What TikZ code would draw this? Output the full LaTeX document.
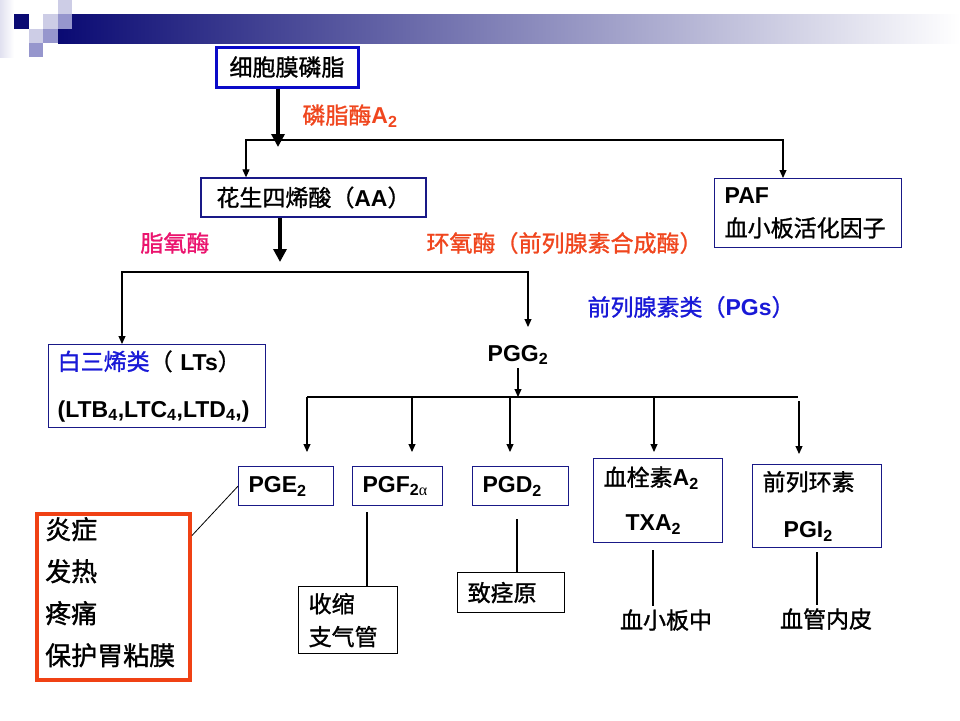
\documentclass[tikz,border=0pt]{standalone}
\usepackage{fontspec}
\setmainfont{Liberation Sans}
\newfontfamily\cjk{Noto Sans CJK SC}[BoldFont={Noto Sans CJK SC},BoldFeatures={FakeBold=1.2}]
\newfontfamily\grk{Liberation Serif}
\usetikzlibrary{arrows.meta}

\definecolor{boxblue}{RGB}{25,25,135}
\definecolor{topblue}{RGB}{10,10,200}
\definecolor{enzred}{RGB}{240,70,30}
\definecolor{lipink}{RGB}{235,20,110}
\definecolor{pgblue}{RGB}{25,25,215}
\definecolor{effred}{RGB}{240,65,20}
\definecolor{decodark}{RGB}{10,10,115}
\definecolor{decomid}{RGB}{150,150,205}
\definecolor{decolight}{RGB}{205,205,230}

\newcommand{\zh}[1]{{\cjk #1}}

\begin{document}
\begin{tikzpicture}[
  x=1pt, y=-1pt,
  font=\fontsize{23}{28}\selectfont\bfseries,
  >={Triangle[length=8pt,width=7pt]},
  link/.style={line width=1.1pt},
  fat/.style={line width=3.5pt, -{Triangle[length=13pt,width=13pt]}},
  pbox/.style={draw=boxblue, line width=1.3pt, anchor=north west,
    inner xsep=10pt, inner ysep=0pt, align=left},
  kbox/.style={pbox, draw=black},
  lines/.style={font=\fontsize{23}{#1}\selectfont\bfseries},
]

\useasboundingbox [fill=white] (0,0) rectangle (960,720);

% slide decoration
\shade [left color=decodark, right color=white] (58,14) rectangle (960,43);
\shade [left color=decolight!60, right color=white] (0,0) rectangle (14,57);
\fill [decodark] (14,14) rectangle (29,29);
\fill [decolight] (43,14) rectangle (58,29);
\fill [decolight] (58,0) rectangle (72,14);
\fill [decomid] (58,14) rectangle (72,29);
\fill [decolight] (29,29) rectangle (43,43);
\fill [decomid] (43,29) rectangle (58,43);
\fill [decomid] (29,43) rectangle (43,57);

% upper part
\node [draw=topblue, line width=3pt, minimum width=142, minimum height=40] (mem) at (287,67) {\zh{细胞膜磷脂}};
\node [text=enzred] (pla) at (350,116) {\zh{磷脂酶}A\textsubscript{2}};
\node [draw=boxblue, line width=1.3pt, minimum width=225, minimum height=39] (aa) at (313.5,197.5) {\zh{花生四烯酸（}AA\zh{）}};
\node [pbox, lines=33, text width=167pt, minimum height=69] (paf) at (714,178) {PAF\\\zh{血小板活化因子}};

\node [text=lipink] (lox) at (175,243) {\zh{脂氧酶}};
\node [text=enzred, anchor=west] (cox) at (423,243) {\zh{环氧酶（前列腺素合成酶）}};
\node [text=pgblue, anchor=west] (pgs) at (584,307) {\zh{前列腺素类（}PGs\zh{）}};

\node [pbox, lines=47, inner xsep=9pt, text width=199pt, minimum height=83] (lt) at (48,344)
  {\textcolor{pgblue}{\zh{白三烯类}}\zh{（} LTs\zh{）}\\(LTB\textsubscript{4},LTC\textsubscript{4},LTD\textsubscript{4},)};
\node (pgg) at (518,355) {PGG\textsubscript{2}};

% prostaglandins
\node [pbox, text width=75pt, minimum height=39] (pge) at (238,466) {PGE\textsubscript{2}};
\node [pbox, text width=70pt, minimum height=39] (pgf) at (352,466) {PGF\textsubscript{2{\grk\mdseries α}}};
\node [pbox, text width=76pt, minimum height=39] (pgd) at (472,466) {PGD\textsubscript{2}};
\node [pbox, lines=45, text width=109pt, minimum height=84] (txa) at (593,458) {\zh{血栓素}A\textsubscript{2}\\\hspace*{22pt}TXA\textsubscript{2}};
\node [pbox, lines=47, text width=109pt, minimum height=83] (pgi) at (752,464) {\zh{前列环素}\\\hspace*{21pt}PGI\textsubscript{2}};

% effects
\node [kbox, lines=33, text width=79pt, minimum height=67] (sx) at (298,586) {\zh{收缩}\\\zh{支气管}};
\node [kbox, text width=87pt, minimum height=40] (zjy) at (457,572) {\zh{致痉原}};
\node (plt) at (666,620) {\zh{血小板中}};
\node (endo) at (826,619) {\zh{血管内皮}};

\node [draw=effred, line width=4pt, minimum width=153, minimum height=166, anchor=north west] (eff) at (35,512) {};
\node [anchor=north west, align=left, inner sep=0pt, font=\fontsize{26}{42}\selectfont\bfseries] (efft) at (45,517)
  {\zh{炎症}\\\zh{发热}\\\zh{疼痛}\\\zh{保护胃粘膜}};

% connectors
\coordinate (j1) at (278,147);
\draw [fat] (mem.south -| j1) -- (j1);
\coordinate (b1l) at (246,140);
\coordinate (b1r) at (783,140);
\draw [link, <->] (b1l |- aa.north) -- (b1l) -- (b1r) -- (b1r |- paf.north);

\coordinate (j2) at (280,262);
\draw [fat] (aa.south -| j2) -- (j2);
\coordinate (b2l) at (122,272);
\coordinate (b2r) at (528,272);
\coordinate (b2t) at (528,327);
\draw [link, <->] (b2l |- lt.north) -- (b2l) -- (b2r) -- (b2t);

\coordinate (b3l) at (307,397);
\coordinate (b3r) at (798,397);
\draw [link, ->] (pgg.south) -- (pgg.south |- b3l);
\draw [link] (b3l) -- (b3r);
\foreach \x/\n/\s/\g in {307/pge/0/14, 412/pgf/0/14, 510/pgd/0/14, 654/txa/0/6, 799/pgi/4/10}
  \draw [link, ->, shorten <=\s pt, shorten >=\g pt] (\x,397) -- (\x,0 |- \n.north);

\coordinate (c1) at (367,512);
\draw [link] (c1) -- (c1 |- sx.north);
\coordinate (c2) at (517,519);
\draw [link] (c2) -- (c2 |- zjy.north);
\coordinate (c3) at (653,550);
\draw [link] (c3) -- (c3 |- plt.north);
\coordinate (c4) at (817,552);
\draw [link] (c4) -- (c4 |- endo.north);

\draw [line width=0.8pt] (pge.west) -- ([yshift=-23.5pt]eff.north east);

\end{tikzpicture}
\end{document}
